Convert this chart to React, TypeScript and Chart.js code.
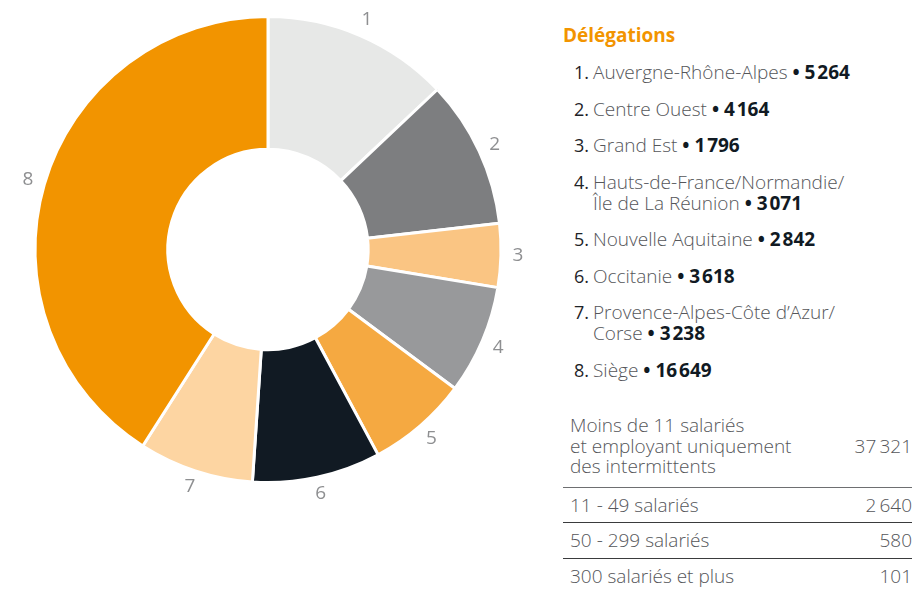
import React, { useEffect, useRef } from "react";
import { Chart, registerables } from "chart.js";

Chart.register(...registerables);

const sliceLabels = ["1", "2", "3", "4", "5", "6", "7", "8"];
const categories = [
  "Auvergne-Rhône-Alpes",
  "Centre Ouest",
  "Grand Est",
  "Hauts-de-France/Normandie/\nÎle de La Réunion",
  "Nouvelle Aquitaine",
  "Occitanie",
  "Provence-Alpes-Côte d’Azur/\nCorse",
  "Siège",
];
const values = [5264, 4164, 1796, 3071, 2842, 3618, 3238, 16649];
const colors = ["#E7E8E7", "#7D7E80", "#FAC583", "#98999B", "#F5A941", "#111A23", "#FDD5A2", "#F29400"];

const legendTitle = "Délégations";
const sizeBands = [
  "Moins de 11 salariés\net employant uniquement\ndes intermittents",
  "11 - 49 salariés",
  "50 - 299 salariés",
  "300 salariés et plus",
];
const sizeCounts = [37321, 2640, 580, 101];

const FONT = "'Open Sans', 'DejaVu Sans', sans-serif";

function fmt(n: number, sep: string): string {
  const s = String(n);
  if (s.length <= 3) return s;
  return s.slice(0, s.length - 3) + sep + s.slice(s.length - 3);
}

const outsideLabels = {
  id: "outsideLabels",
  afterDatasetsDraw(chart: any) {
    const ctx = chart.ctx;
    const meta = chart.getDatasetMeta(0);
    ctx.save();
    ctx.font = `400 19px ${FONT}`;
    ctx.fillStyle = "#8E8F91";
    ctx.textAlign = "center";
    ctx.textBaseline = "middle";
    meta.data.forEach((arc: any, i: number) => {
      const { x, y, startAngle, endAngle, outerRadius } = arc.getProps(
        ["x", "y", "startAngle", "endAngle", "outerRadius"],
        true
      );
      const mid = (startAngle + endAngle) / 2;
      const r = outerRadius + 17;
      ctx.fillText(sliceLabels[i], x + Math.cos(mid) * r, y + Math.sin(mid) * r);
    });
    ctx.restore();
  },
};

function Doughnut() {
  const ref = useRef<HTMLCanvasElement | null>(null);
  useEffect(() => {
    if (!ref.current) return;
    const chart = new Chart(ref.current, {
      type: "doughnut",
      data: {
        labels: sliceLabels,
        datasets: [
          {
            data: values,
            backgroundColor: colors,
            borderColor: "#ffffff",
            borderWidth: 3,
          },
        ],
      },
      options: {
        animation: false,
        responsive: false,
        cutout: "43%",
        layout: { padding: { left: 14, right: 14, top: 15, bottom: 56 } },
        plugins: {
          legend: { display: false },
          tooltip: { enabled: false },
        },
      },
      plugins: [outsideLabels],
    });
    return () => chart.destroy();
  }, []);
  return (
    <canvas
      ref={ref}
      width={536}
      height={540}
      style={{ position: "absolute", left: 0, top: 0, width: 536, height: 540 }}
    />
  );
}

export default function App() {
  useEffect(() => {
    document.body.style.margin = "0";
  }, []);
  const textGrey = "#55565A";
  return (
    <div
      style={{
        position: "relative",
        width: 916,
        height: 590,
        overflow: "hidden",
        background: "#fff",
        fontFamily: FONT,
      }}
    >
      <Doughnut />
      <div style={{ position: "absolute", left: 563, top: 25, width: 350 }}>
        <div
          style={{
            color: "#F29400",
            fontWeight: 700,
            fontSize: 19,
            lineHeight: "21px",
            marginBottom: 16,
          }}
        >
          {legendTitle}
        </div>
        {categories.map((c, i) => (
          <div
            key={i}
            style={{
              display: "flex",
              fontSize: 19,
              fontWeight: 300,
              lineHeight: "21px",
              marginBottom: 15.5,
              color: textGrey,
            }}
          >
            <div
              style={{
                width: 26,
                textAlign: "right",
                paddingRight: 4,
                color: "#1E2328",
                fontWeight: 500,
                fontSize: 18,
                flexShrink: 0,
              }}
            >
              {i + 1}.
            </div>
            <div style={{ whiteSpace: "pre-line" }}>
              {c}
              <span style={{ color: "#111A23", fontWeight: 700 }}>
                {" • "}
                {fmt(values[i], "\u200A")}
              </span>
            </div>
          </div>
        ))}
      </div>
      <div style={{ position: "absolute", left: 563, top: 407, width: 349 }}>
        {sizeBands.map((b, i) => (
          <div
            key={i}
            style={{
              display: "flex",
              justifyContent: "space-between",
              alignItems: "center",
              fontSize: 19,
              fontWeight: 300,
              lineHeight: "20.5px",
              color: textGrey,
              paddingLeft: 7,
              paddingTop: i === 0 ? 8 : 7,
              paddingBottom: i === 0 ? 10 : 7,
              borderBottom:
                i < sizeBands.length - 1
                  ? i === 0
                    ? "1.5px solid #6E6F71"
                    : "1.5px solid #3A3B3D"
                  : "none",
            }}
          >
            <div style={{ whiteSpace: "pre-line" }}>{b}</div>
            <div>{fmt(sizeCounts[i], "\u2009")}</div>
          </div>
        ))}
      </div>
    </div>
  );
}
